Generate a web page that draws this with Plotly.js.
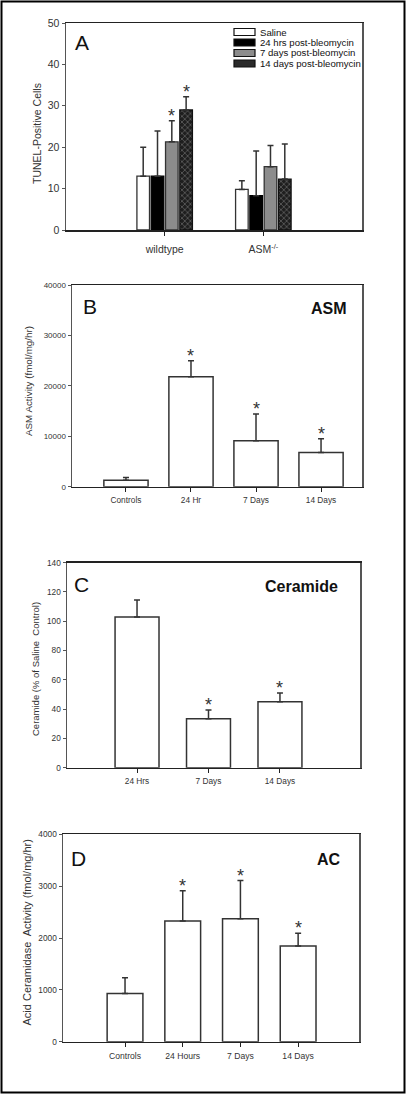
<!DOCTYPE html>
<html><head><meta charset="utf-8">
<script src="https://cdn.plot.ly/plotly-3.0.1.min.js"></script>
<style>html,body{margin:0;padding:0;background:#fff}#chart{width:406px;height:1094px}</style>
</head><body><div id="chart"></div>
<script>
// ---------- Panel A: TUNEL-positive cells ----------
const tunelGroups = ['wildtype', 'ASM<sup>-/-</sup>'];
const tunelSeriesNames = ['Saline', '24 hrs post-bleomycin', '7 days post-bleomycin', '14 days post-bleomycin'];
const tunelSaline = [13.0, 9.8];
const tunelSalineTop = [20.0, 11.9];
const tunel24h = [13.0, 8.3];
const tunel24hTop = [23.9, 19.1];
const tunel7d = [21.3, 15.3];
const tunel7dTop = [26.4, 20.4];
const tunel14d = [29.0, 12.3];
const tunel14dTop = [32.2, 20.8];
const tunelStar7d = [true, false];
const tunelStar14d = [true, false];
const tunelTicks = [0, 10, 20, 30, 40, 50];

// ---------- Panel B: ASM activity ----------
const asmCats = ['Controls', '24 Hr', '7 Days', '14 Days'];
const asmVals = [1300, 21800, 9100, 6800];
const asmTop = [1800, 25000, 14400, 9500];
const asmStar = [false, true, true, true];
const asmTicks = [0, 10000, 20000, 30000, 40000];

// ---------- Panel C: Ceramide ----------
const cerCats = ['24 Hrs', '7 Days', '14 Days'];
const cerVals = [103, 33.5, 45];
const cerTop = [114.5, 39.4, 51];
const cerStar = [false, true, true];
const cerTicks = [0, 20, 40, 60, 80, 100, 120, 140];

// ---------- Panel D: Acid ceramidase ----------
const acCats = ['Controls', '24 Hours', '7 Days', '14 Days'];
const acVals = [930, 2330, 2370, 1845];
const acTop = [1235, 2913, 3107, 2090];
const acStar = [false, true, true, true];
const acTicks = [0, 1000, 2000, 3000, 4000];

// ---------- helpers ----------
const W = 406, H = 1094;
const px = v => v / W;
const py = v => 1 - v / H;
const FONT = 'Liberation Sans, Arial, Helvetica, sans-serif';
const INK = '#333';
const diff = (top, val) => top.map((t, i) => t - val[i]);
const zeros = a => a.map(() => 0);
const errBar = (top, val) => ({type: 'data', array: diff(top, val), arrayminus: zeros(val), symmetric: false, color: INK, thickness: 1.5, width: 3, visible: true});

const traces = [];
const annotations = [];
const shapes = [];

// Panel A traces
const aSeries = [
  {v: tunelSaline, t: tunelSalineTop, marker: {color: '#ffffff', line: {color: INK, width: 1.3}}},
  {v: tunel24h, t: tunel24hTop, marker: {color: '#000000', line: {color: '#000', width: 1.3}}},
  {v: tunel7d, t: tunel7dTop, marker: {color: '#8c8c8c', line: {color: INK, width: 1.3}}},
  {v: tunel14d, t: tunel14dTop, marker: {color: '#222222', line: {color: '#111', width: 1.3},
     pattern: {shape: 'x', bgcolor: '#1e1e1e', fgcolor: '#9a9a9a', size: 4, solidity: 0.2}}}
];
aSeries.forEach((s, i) => {
  traces.push({type: 'bar', x: tunelGroups, y: s.v, name: tunelSeriesNames[i], xaxis: 'x', yaxis: 'y',
    marker: s.marker, error_y: errBar(s.t, s.v), showlegend: false, hoverinfo: 'skip'});
});
const BARGAP_A = 0.42;
const slot = (1 - BARGAP_A) / 4;
const slotCenter = i => -((1 - BARGAP_A) / 2) + slot * (i + 0.5);
const starFont = {family: FONT, size: 18, color: INK};
tunelStar7d.forEach((s, g) => { if (s) annotations.push({xref: 'x', yref: 'y', x: g + slotCenter(2), y: tunel7dTop[g], text: '*', showarrow: false, yanchor: 'bottom', yshift: -7, font: starFont}); });
tunelStar14d.forEach((s, g) => { if (s) annotations.push({xref: 'x', yref: 'y', x: g + slotCenter(3), y: tunel14dTop[g], text: '*', showarrow: false, yanchor: 'bottom', yshift: -7, font: starFont}); });

// Simple panels
function simplePanel(cats, vals, top, stars, xa, ya, width) {
  traces.push({type: 'bar', x: cats, y: vals, xaxis: xa, yaxis: ya, width: width,
    marker: {color: '#ffffff', line: {color: INK, width: 1.5}}, error_y: errBar(top, vals), showlegend: false, hoverinfo: 'skip'});
  stars.forEach((s, i) => { if (s) annotations.push({xref: xa, yref: ya, x: cats[i], y: top[i], text: '*', showarrow: false, yanchor: 'bottom', yshift: -7, font: starFont}); });
}
simplePanel(asmCats, asmVals, asmTop, asmStar, 'x2', 'y2', 0.68);
simplePanel(cerCats, cerVals, cerTop, cerStar, 'x3', 'y3', 0.615);
simplePanel(acCats, acVals, acTop, acStar, 'x4', 'y4', 0.62);

// Legend for panel A (drawn manually)
const legendFills = ['#ffffff', '#000000', '#8c8c8c', '#2a2a2a'];
const legendRows = [32, 42.5, 53, 63.5];
legendRows.forEach((c, i) => {
  shapes.push({type: 'rect', xref: 'paper', yref: 'paper', x0: px(234), x1: px(255), y0: py(c + 3.5), y1: py(c - 3.5),
    fillcolor: legendFills[i], line: {color: '#111', width: 1.2}});
  annotations.push({xref: 'paper', yref: 'paper', x: px(258), y: py(c), xanchor: 'left', yanchor: 'middle', showarrow: false,
    text: tunelSeriesNames[i], font: {family: FONT, size: 9.6, color: '#111'}});
});

// Panel letters and titles
const letter = (t, x, y) => annotations.push({xref: 'paper', yref: 'paper', x: px(x), y: py(y), xanchor: 'left', yanchor: 'middle', showarrow: false, text: t, font: {family: FONT, size: 21, color: '#111'}});
const label = (t, x, y) => annotations.push({xref: 'paper', yref: 'paper', x: px(x), y: py(y), xanchor: 'center', yanchor: 'middle', showarrow: false, text: '<b>' + t + '</b>', font: {family: FONT, size: 16, color: '#111'}});
const ytitle = (t, x, y, s) => annotations.push({xref: 'paper', yref: 'paper', x: px(x), y: py(y), xanchor: 'center', yanchor: 'middle', textangle: -90, showarrow: false, text: t, font: {family: FONT, size: s, color: INK}});
letter('A', 73, 42);
letter('B', 81, 306);
label('ASM', 329, 308);
letter('C', 72, 584);
label('Ceramide', 301, 586);
letter('D', 69, 858);
label('AC', 328.5, 859);
ytitle('TUNEL-Positive Cells', 37, 134, 10.5);
ytitle('ASM Activity (fmol/mg/hr)', 29, 381, 9.8);
ytitle('Ceramide (% of Saline\u00a0 Control)', 35, 669, 9.5);
ytitle('Acid Ceramidase\u00a0 Activity (fmol/mg/hr)', 26.5, 933, 11);

// Outer frame
shapes.push({type: 'rect', xref: 'paper', yref: 'paper', x0: px(1.5), x1: px(404.5), y0: py(1092.5), y1: py(1.5), line: {color: '#000', width: 2}, fillcolor: 'rgba(0,0,0,0)'});

const xBase = (dom, range, fs, standoff) => ({domain: dom, range: range, type: 'category', showline: true, linecolor: '#222', linewidth: 1.5, mirror: true,
  ticks: 'outside', ticklen: 4, tickcolor: '#222', tickwidth: 1, showgrid: false, zeroline: false, fixedrange: true,
  tickfont: {family: FONT, size: fs, color: INK}, ticklabelstandoff: standoff});
const yBase = (dom, range, tv, fs, anchor) => ({domain: dom, range: range, tickvals: tv, tickformat: 'd', showline: true, linecolor: '#555', linewidth: 1.5, mirror: true,
  ticks: 'outside', ticklen: 3, tickcolor: '#555', tickwidth: 1, showgrid: false, zeroline: false, fixedrange: true, anchor: anchor,
  tickfont: {family: FONT, size: fs, color: INK}});

const layout = {
  width: W, height: H, margin: {l: 0, r: 0, t: 0, b: 0}, paper_bgcolor: '#fff', plot_bgcolor: '#fff',
  barmode: 'group', bargap: BARGAP_A, bargroupgap: 0.12, showlegend: false,
  font: {family: FONT, color: INK},
  xaxis: Object.assign(xBase([px(66), px(362)], [-1, 2], 10.5, 5), {anchor: 'y'}),
  yaxis: yBase([py(230), py(23)], [0, 50], tunelTicks, 10.5, 'x'),
  xaxis2: Object.assign(xBase([px(72), px(362)], [-0.83, 3.63], 8.3, 1), {anchor: 'y2'}),
  yaxis2: yBase([py(486.7), py(285)], [0, 40000], asmTicks, 8, 'x2'),
  xaxis3: Object.assign(xBase([px(67), px(360)], [-0.98, 3.12], 8.3, 1), {anchor: 'y3'}),
  yaxis3: yBase([py(767.7), py(562.7)], [0, 140], cerTicks, 8.3, 'x3'),
  xaxis4: Object.assign(xBase([px(63), px(359)], [-1.075, 4.055], 8.6, 1), {anchor: 'y4'}),
  yaxis4: yBase([py(1041.7), py(834.3)], [0, 4000], acTicks, 8.3, 'x4'),
  annotations: annotations, shapes: shapes
};

Plotly.newPlot('chart', traces, layout, {staticPlot: true, displayModeBar: false});
</script></body></html>
